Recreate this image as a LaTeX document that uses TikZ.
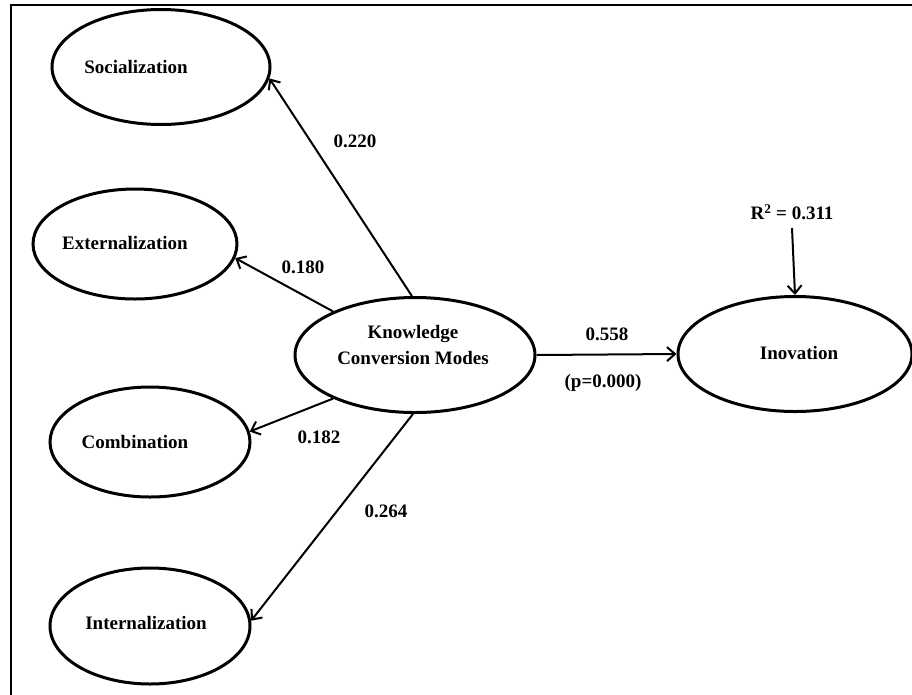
\documentclass[tikz,border=0pt]{standalone}
\usepackage{fontspec}
\setmainfont{Liberation Serif}
\usetikzlibrary{arrows.meta,shapes.geometric}
\begin{document}
\begin{tikzpicture}[x=1pt,y=-1pt,
  construct/.style={ellipse,draw,line width=3pt,inner sep=0pt},
  path/.style={line width=2pt,-{Straight Barb[length=8pt,width=14pt,line width=2pt]}},
  lbl/.style={font=\bfseries\fontsize{19}{22}\selectfont,inner sep=0pt,align=center}]
\useasboundingbox (0,0) rectangle (912,694);
\begin{scope}
\clip (0,0) rectangle (912,694);
\draw[line width=2.6pt] (11,5) rectangle (930,710);
\end{scope}
\node[construct,minimum width=218pt,minimum height=115pt] (soc) at (161,67) {};
\node[construct,minimum width=204pt,minimum height=110pt] (ext) at (135,244) {};
\node[construct,minimum width=200pt,minimum height=110pt] (com) at (150,442) {};
\node[construct,minimum width=200pt,minimum height=116pt] (int) at (150,626) {};
\node[construct,minimum width=240pt,minimum height=115pt] (kcm) at (415,355) {};
\node[construct,minimum width=234pt,minimum height=115pt] (ino) at (795,354) {};
\node[lbl] (socT) at (136,67) {Socialization};
\node[lbl] (extT) at (125,243) {Externalization};
\node[lbl] (comT) at (135,442) {Combination};
\node[lbl] (intT) at (146,623) {Internalization};
\node[lbl] (kcmT1) at (413,334) {Knowledge};
\node[lbl] (kcmT2) at (413,358) {Conversion Modes};
\node[lbl] (inoT) at (799,353) {Inovation};
\node[lbl] (r2) at (792,212) {R\textsuperscript{2} = 0.311};
\coordinate (r2s) at (792,228);
\draw[path] (kcm.{93}) -- (soc.{-6});
\draw[path] (kcm.{152}) -- (ext.{-8});
\draw[path] (kcm.{208}) -- (com.{6});
\draw[path] (kcm.{-92}) -- (int.{3});
\draw[path] (kcm.east) -- (ino.west);
\draw[path] (r2s) -- (ino.north);
\node[lbl] (l1) at (355,141) {0.220};
\node[lbl] (l2) at (303,267) {0.180};
\node[lbl] (l3) at (319,437) {0.182};
\node[lbl] (l4) at (386,511) {0.264};
\node[lbl] (l5) at (607,334) {0.558};
\node[lbl] (l6) at (603,383) {(p=0.000)};
\end{tikzpicture}
\end{document}
